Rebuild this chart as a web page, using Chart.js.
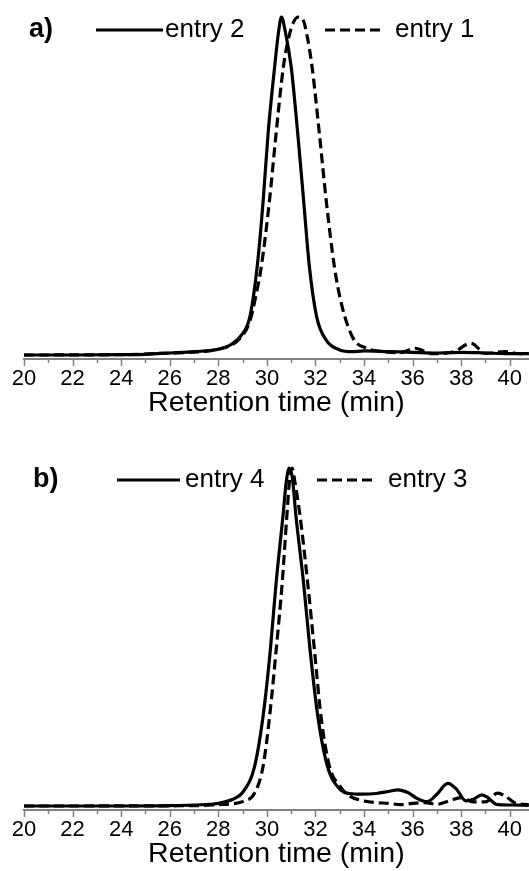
<!DOCTYPE html>
<html>
<head>
<meta charset="utf-8">
<script src="https://cdn.jsdelivr.net/npm/chart.js@4.4.1/dist/chart.umd.min.js"></script>
<style>
  body { margin: 0; background: #fff; width: 529px; height: 871px; position: relative; overflow: hidden; }
  .panel { position: absolute; left: 0; width: 529px; height: 420px; }
</style>
</head>
<body>
<div class="panel" style="top:0"><canvas id="chartA" width="529" height="420"></canvas></div>
<div class="panel" style="top:451px"><canvas id="chartB" width="529" height="420"></canvas></div>
<script>
// x axis ticks (min), every second one labelled
const xTicks = [20, 21, 22, 23, 24, 25, 26, 27, 28, 29, 30, 31, 32, 33, 34, 35, 36, 37, 38, 39, 40];

// panel a) - entry 2 (solid) and entry 1 (dashed), normalised signal
const timeEntry2 = [20, 22, 24, 25, 26, 27, 28, 28.5, 28.9, 29.3, 29.6, 29.85, 30.05, 30.32, 30.47, 30.6, 30.75, 31.0, 31.27, 31.51, 31.75, 32.05, 32.44, 33.0, 33.5, 34, 35, 36, 37, 38, 39, 40, 40.8];
const entry2 = [0, 0, 0.001, 0.002, 0.006, 0.01, 0.017, 0.03, 0.054, 0.113, 0.261, 0.459, 0.656, 0.853, 0.95, 1.0, 0.96, 0.853, 0.656, 0.459, 0.261, 0.113, 0.044, 0.015, 0.01, 0.012, 0.01, 0.008, 0.006, 0.008, 0.006, 0.004, 0.004];

const timeEntry1 = [20, 24, 26, 28, 28.9, 29.3, 29.56, 29.77, 30.11, 30.38, 30.68, 30.9, 31.1, 31.3, 31.5, 31.64, 31.86, 32.16, 32.44, 32.78, 33.08, 33.55, 34.1, 34.8, 35.5, 36.1, 36.8, 37.7, 38.4, 39.0, 39.8, 40.4, 40.8];
const entry1 = [0, 0.001, 0.006, 0.017, 0.05, 0.1, 0.18, 0.261, 0.459, 0.656, 0.853, 0.94, 0.985, 1.0, 0.99, 0.95, 0.853, 0.656, 0.459, 0.261, 0.148, 0.05, 0.02, 0.01, 0.007, 0.02, 0.004, 0.01, 0.035, 0.005, 0.01, 0.004, 0.004];

// panel b) - entry 4 (solid) and entry 3 (dashed)
const timeEntry4 = [20, 24, 26, 27, 28, 28.6, 29.0, 29.49, 29.84, 30.14, 30.38, 30.66, 30.8, 30.92, 31.05, 31.2, 31.51, 31.78, 32.1, 32.5, 33.05, 33.4, 33.9, 34.5, 35.0, 35.4, 35.8, 36.2, 36.6, 37.0, 37.45, 37.8, 38.2, 38.5, 38.85, 39.1, 39.45, 40, 40.8];
const entry4 = [0, 0, 0.001, 0.003, 0.008, 0.02, 0.04, 0.116, 0.264, 0.46, 0.66, 0.856, 0.96, 1.0, 0.97, 0.856, 0.66, 0.46, 0.264, 0.116, 0.047, 0.037, 0.035, 0.037, 0.043, 0.048, 0.04, 0.022, 0.013, 0.035, 0.067, 0.05, 0.015, 0.02, 0.033, 0.025, 0.005, 0.003, 0.002];

const timeEntry3 = [20, 27, 28, 28.5, 29.0, 29.49, 29.84, 30.11, 30.38, 30.63, 30.82, 30.93, 31.04, 31.15, 31.37, 31.68, 31.96, 32.23, 32.58, 32.99, 33.4, 34, 34.5, 35, 35.5, 36, 36.5, 37, 37.5, 38, 38.5, 39, 39.5, 39.8, 40.2, 40.8];
const entry3 = [0, 0.001, 0.004, 0.006, 0.013, 0.038, 0.116, 0.264, 0.46, 0.66, 0.856, 0.96, 1.0, 0.96, 0.856, 0.66, 0.46, 0.264, 0.116, 0.06, 0.03, 0.015, 0.01, 0.008, 0.004, 0.008, 0.01, 0.005, 0.015, 0.025, 0.012, 0.012, 0.038, 0.03, 0.01, 0.004];

const FONT = '"Liberation Sans", Arial, sans-serif';
const AXIS_GREY = '#808080';

// draws minor/major tick marks, the panel tag and the in-plot legend
const panelDecor = {
  id: 'panelDecor',
  afterDraw(chart, args, opts) {
    const ctx = chart.ctx;
    const xs = chart.scales.x;
    const yAxis = chart.chartArea.bottom;
    ctx.save();
    ctx.strokeStyle = AXIS_GREY;
    ctx.lineWidth = 1.5;
    xTicks.forEach(v => {
      const px = Math.round(xs.getPixelForValue(v)) + 0.5;
      const len = v % 2 === 0 ? 7 : 4;
      ctx.beginPath();
      ctx.moveTo(px, yAxis);
      ctx.lineTo(px, yAxis + len);
      ctx.stroke();
    });

    ctx.fillStyle = '#000';
    ctx.textBaseline = 'middle';
    ctx.font = 'bold 27px ' + FONT;
    ctx.fillText(opts.tag, opts.tagX, opts.y);

    ctx.font = '26px ' + FONT;
    chart.data.datasets.forEach((ds, i) => {
      const it = opts.items[i];
      ctx.strokeStyle = ds.borderColor;
      ctx.lineWidth = ds.borderWidth;
      ctx.setLineDash(ds.borderDash || []);
      ctx.beginPath();
      ctx.moveTo(it.from, opts.y);
      ctx.lineTo(it.to, opts.y);
      ctx.stroke();
      ctx.setLineDash([]);
      ctx.fillText(ds.label, it.textX, opts.y);
    });
    ctx.restore();
  }
};

function makePanel(id, series, decor) {
  return new Chart(document.getElementById(id), {
    type: 'line',
    data: {
      datasets: series.map(s => ({
        label: s.label,
        data: s.t.map((t, i) => ({ x: t, y: s.v[i] })),
        borderColor: '#000',
        borderWidth: 3.2,
        borderDash: s.dash,
        pointRadius: 0,
        cubicInterpolationMode: 'monotone',
        fill: false
      }))
    },
    options: {
      responsive: false,
      animation: false,
      events: [],
      layout: { padding: { left: 24, right: 0, top: 0, bottom: 0 } },
      plugins: {
        legend: { display: false },
        tooltip: { enabled: false },
        panelDecor: decor
      },
      scales: {
        x: {
          type: 'linear',
          min: 20,
          max: 40.78,
          afterBuildTicks: sc => { sc.ticks = xTicks.map(v => ({ value: v })); },
          afterFit: sc => { sc.height = 61; },
          grid: { display: false, drawTicks: false },
          border: { display: true, color: AXIS_GREY, width: 2 },
          ticks: {
            padding: 7,
            color: '#000',
            font: { family: FONT, size: 22 },
            maxRotation: 0,
            autoSkip: false,
            callback: v => (v % 2 === 0 ? String(v) : '')
          },
          title: {
            display: true,
            text: 'Retention time (min)',
            color: '#000',
            font: { family: FONT, size: 28.5 },
            padding: { top: 0, bottom: 0 }
          }
        },
        y: { display: false, min: -0.0118, max: 1.0503 }
      }
    },
    plugins: [panelDecor]
  });
}

makePanel('chartA', [
  { label: 'entry 2', t: timeEntry2, v: entry2, dash: [] },
  { label: 'entry 1', t: timeEntry1, v: entry1, dash: [10, 5] }
], { tag: 'a)', tagX: 29, y: 30, items: [
  { from: 96, to: 163, textX: 165 },
  { from: 325, to: 380, textX: 395 }
] });

makePanel('chartB', [
  { label: 'entry 4', t: timeEntry4, v: entry4, dash: [] },
  { label: 'entry 3', t: timeEntry3, v: entry3, dash: [10, 5] }
], { tag: 'b)', tagX: 33, y: 29, items: [
  { from: 117, to: 180, textX: 185 },
  { from: 317, to: 377, textX: 388 }
] });
</script>
</body>
</html>
